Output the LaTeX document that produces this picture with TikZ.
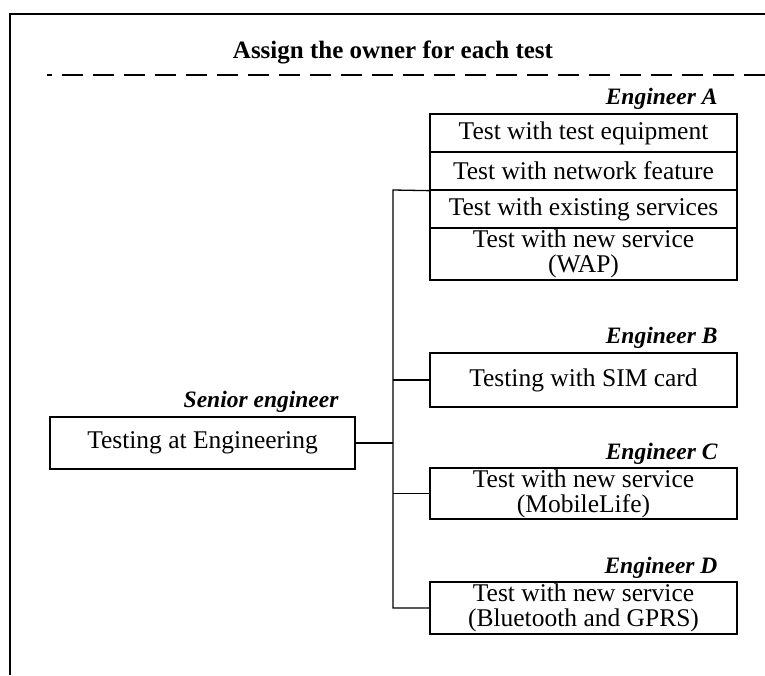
\documentclass[tikz,border=0pt]{standalone}
\usepackage{fontspec}
\setmainfont{Liberation Serif}
\begin{document}
\begin{tikzpicture}[x=1pt,y=-1pt,
  box/.style={draw, line width=1.3pt, inner sep=0pt, align=center,
    font=\fontsize{25.5}{25}\selectfont, minimum width=307pt},
  owner/.style={font=\fontsize{23.5}{24}\selectfont\bfseries\itshape, inner sep=0pt, anchor=south east},
  link/.style={line width=1.3pt}
]
\useasboundingbox (0,0) rectangle (765,675);
% frame
\draw[line width=2.6pt] (765,14) -- (10,14) -- (10,675);
\node[font=\fontsize{25}{25}\selectfont\bfseries, inner sep=0pt] (title) at (393,52) {Assign the owner for each test};
\draw[line width=2pt, dash pattern=on 21pt off 10pt, dash phase=16pt] (47,75) -- (765,75);

% Engineer A stack
\node[box, minimum height=38pt] (a1) at (583.5,133) {Test with test equipment};
\node[box, minimum height=38pt] (a2) at (583.5,171) {Test with network feature};
\node[box, minimum height=38pt] (a3) at (583.5,209) {Test with existing services};
\node[box, minimum height=52pt] (a4) at (583.5,254) {Test with new service\\(WAP)};
\node[owner] (la) at ([xshift=-20pt,yshift=4pt]a1.north east) {Engineer A};

% Engineer B
\node[box, minimum height=54pt] (b) at (583.5,380) {Testing with SIM card};
\node[owner] (lb) at ([xshift=-20pt,yshift=4pt]b.north east) {Engineer B};

% Engineer C
\node[box, minimum height=51pt] (c) at (583.5,493.5) {Test with new service\\(MobileLife)};
\node[owner] (lc) at ([xshift=-20pt,yshift=3pt]c.north east) {Engineer C};

% Engineer D
\node[box, minimum height=52pt] (d) at (583.5,608) {Test with new service\\(Bluetooth and GPRS)};
\node[owner] (ld) at ([xshift=-20pt,yshift=3pt]d.north east) {Engineer D};

% Senior
\node[box, minimum width=305pt, minimum height=52pt] (s) at (202.5,443) {Testing at Engineering};
\node[owner] (ls) at ([xshift=-17pt,yshift=4pt]s.north east) {Senior engineer};

% connectors
\coordinate (tt) at (393,190);
\coordinate (tb) at (393,608);
\draw[link] (a2.south west) -- (tt) -- (tb) -- (d.west);
\draw[link] (s.east) -- (s.east -| tt);
\draw[link] (b.west) -- (b.west -| tt);
\draw[link] (c.west) -- (c.west -| tt);
\end{tikzpicture}
\end{document}
